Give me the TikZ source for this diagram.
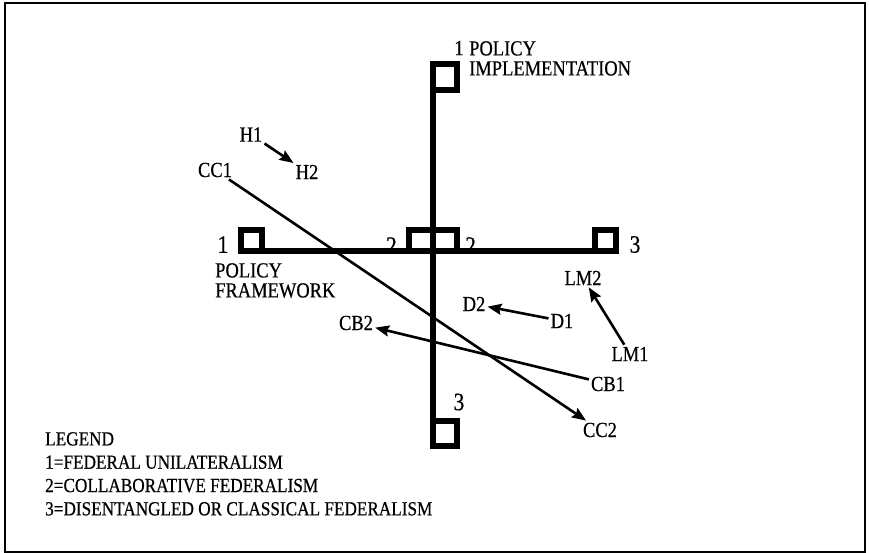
\documentclass[tikz,border=0pt]{standalone}
\usepackage{fontspec}
\setmainfont{Liberation Serif}[FakeStretch=0.86, FakeBold=0.5]
\usetikzlibrary{arrows.meta, positioning}

\begin{document}
\begin{tikzpicture}[
		x=1pt, y=-1pt,
		cell/.style={
			draw,
			line width=6pt,
			inner sep=0pt,
			outer sep=0pt,
			minimum width=21pt,
			minimum height=21pt
		},
		axis/.style={line width=6pt, line cap=rect},
		lbl/.style={inner sep=2pt, font=\fontsize{21.5}{20}\selectfont},
		num/.style={inner sep=0pt, font=\fontsize{25}{25}\selectfont},
		arrow/.style={-{Stealth[length=14pt, width=11pt, inset=2pt]}, line width=2.6pt}
		]
		
		\useasboundingbox (0,0) rectangle (869,553);
		\draw[line width=2pt] (5,3) rectangle (865,552);
		
		\node[cell] (sqL) at (251,240.5) {};
		\node[cell] (sqR) at (605,240.5) {};
		\node[cell, minimum width=24pt] (sqML) at (421,240.5) {};
		\node[cell, minimum width=24pt] (sqMR) at (445,240.5) {};
		\node[cell, minimum width=24pt, minimum height=26pt] (sqT) at (445,77) {};
		\node[cell, minimum width=24pt, minimum height=25pt] (sqB) at (445,433) {};
		
		\draw[axis] (sqT.north west) -- (sqB.south west);
		\draw[axis] (sqL.south west) -- (sqR.south east);
		
		\node[num, left=12pt of sqL, yshift=-4pt] (nL) {1};
		\node[num, left=12pt of sqML, yshift=-5pt] (nML) {2};
		\node[num, right=8pt of sqMR, yshift=-5pt] (nMR) {2};
		\node[num, right=14pt of sqR, yshift=-4pt] (nR) {3};
		\node[num] (nB) at (459,402) {3};
		
		\node[lbl] (nT) at (459,48) {1};
		\node[lbl, inner sep=0pt, anchor=north west, align=left] (impl) at (469,41) {POLICY\\IMPLEMENTATION};
		\node[lbl, inner sep=0pt, anchor=north west, align=left] (frame) at (215,263) {POLICY\\FRAMEWORK};
		
		\node[lbl] (h1) at (251,134.5) {H1};
		\node[lbl] (h2) at (307,172) {H2};
		\node[lbl] (cc1) at (215,170) {CC1};
		\node[lbl] (cc2) at (600,430) {CC2};
		\node[lbl] (cb1) at (608,384) {CB1};
		\node[lbl] (cb2) at (356,323) {CB2};
		\node[lbl] (d1) at (562,321) {D1};
		\node[lbl] (d2) at (474,304) {D2};
		\node[lbl] (lm1) at (630,354) {LM1};
		\node[lbl] (lm2) at (583,278) {LM2};
		
		\draw[arrow] (h1) -- (h2);
		\draw[arrow] (cc1) -- (cc2);
		\draw[arrow] (cb1) -- (cb2);
		\draw[arrow] (d1) -- (d2);
		\draw[arrow] (lm1) -- (lm2);
		
		\node[inner sep=0pt, anchor=north west, align=left, font=\fontsize{20}{23.3}\selectfont] (legend) at (45,432)
			{LEGEND\\1=FEDERAL UNILATERALISM\\2=COLLABORATIVE FEDERALISM\\3=DISENTANGLED OR CLASSICAL FEDERALISM};
		
	\end{tikzpicture}
\end{document}
